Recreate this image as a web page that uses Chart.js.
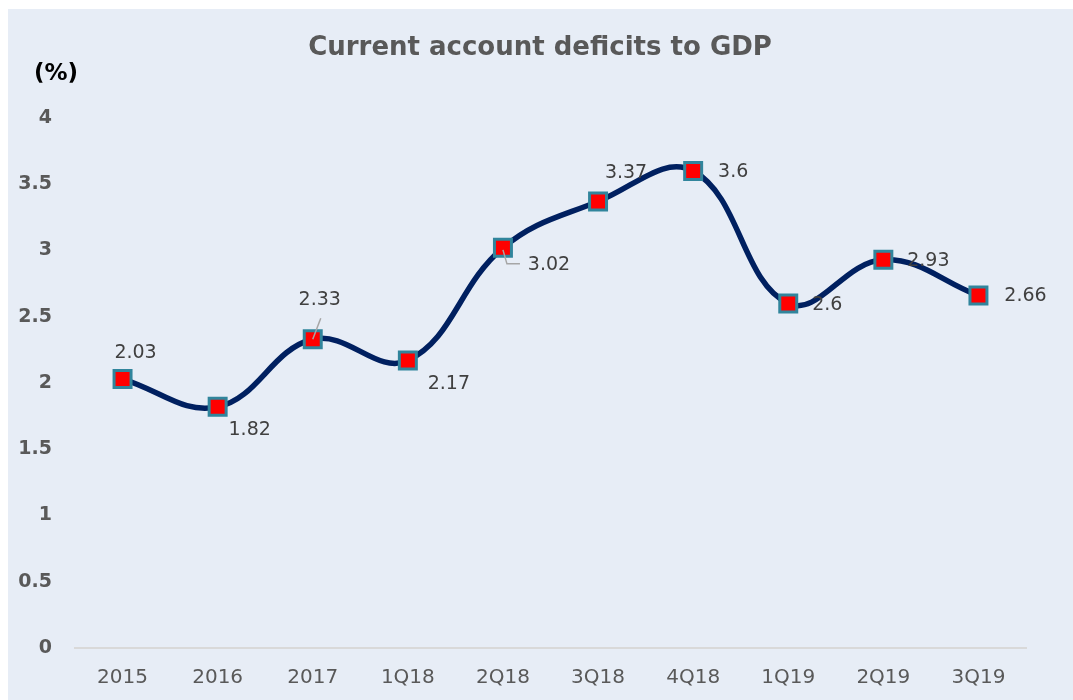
<!DOCTYPE html>
<html>
<head>
<meta charset="utf-8">
<script src="https://cdn.jsdelivr.net/npm/chart.js@4/dist/chart.umd.min.js"></script>
<style>
    html, body { margin: 0; padding: 0; background: #fff; }
    #wrap {
        position: absolute;
        left: 8px;
        top: 9px;
        width: 1065px;
        height: 691px;
        background: #e7edf6;
    }
</style>
</head>
<body>
<div id="wrap"><canvas id="cadChart" width="1065" height="691"></canvas></div>
<script>
// Current account deficit as % of GDP
const periods = ['2015', '2016', '2017', '1Q18', '2Q18', '3Q18', '4Q18', '1Q19', '2Q19', '3Q19'];
const deficitPct = [2.03, 1.82, 2.33, 2.17, 3.02, 3.37, 3.6, 2.6, 2.93, 2.66];
const yTicks = [0, 0.5, 1, 1.5, 2, 2.5, 3, 3.5, 4];
const chartTitle = 'Current account deficits to GDP';
const unitLabel = '(%)';

// Where each value label sits relative to its marker, and which ones get a leader line
const labelOffsets = [
    [13, -26], [32, 23], [7, -39], [41, 24], [46, 17],
    [28, -28], [40, 1], [39, 2], [45, 1], [47, 1]
];
const leaderLines = {
    2: [[0, 0], [8, -21]],
    4: [[0, 2], [4, 16], [17, 16]]
};

const colors = {
    line: '#002060',
    markerFill: '#ff0000',
    markerBorder: '#31859c',
    axisText: '#595959',
    labelText: '#404040',
    axisLine: '#d9d9d9',
    leader: '#a6a6a6'
};

// Title, "(%)" caption, value labels and leader lines
const annotations = {
    id: 'annotations',
    afterDatasetsDraw(chart) {
        const ctx = chart.ctx;
        const meta = chart.getDatasetMeta(0);
        ctx.save();
        ctx.textAlign = 'center';
        ctx.textBaseline = 'middle';

        ctx.font = 'bold 26px "DejaVu Sans"';
        ctx.fillStyle = colors.axisText;
        ctx.fillText(chartTitle, 532, 39);

        ctx.font = 'bold 23px "DejaVu Sans"';
        ctx.fillStyle = '#000';
        ctx.fillText(unitLabel, 48, 65);

        meta.data.forEach((pt, i) => {
            const lines = leaderLines[i];
            if (!lines) return;
            ctx.strokeStyle = colors.leader;
            ctx.lineWidth = 1.5;
            ctx.beginPath();
            lines.forEach(([dx, dy], j) => {
                if (j === 0) ctx.moveTo(pt.x + dx, pt.y + dy);
                else ctx.lineTo(pt.x + dx, pt.y + dy);
            });
            ctx.stroke();
        });

        ctx.font = '19px "DejaVu Sans"';
        ctx.fillStyle = colors.labelText;
        meta.data.forEach((pt, i) => {
            const [dx, dy] = labelOffsets[i];
            ctx.fillText(String(deficitPct[i]), pt.x + dx, pt.y + dy);
        });
        ctx.restore();
    }
};

new Chart(document.getElementById('cadChart').getContext('2d'), {
    type: 'line',
    data: {
        labels: periods,
        datasets: [{
            data: deficitPct,
            borderColor: colors.line,
            borderWidth: 5.5,
            tension: 0.4,
            pointStyle: 'rect',
            pointRadius: 12,
            pointHoverRadius: 12,
            pointBackgroundColor: colors.markerFill,
            pointBorderColor: colors.markerBorder,
            pointBorderWidth: 3,
            clip: false
        }]
    },
    options: {
        responsive: false,
        animation: false,
        events: [],
        layout: { padding: { left: 0, right: 47, top: 109, bottom: 0 } },
        plugins: {
            legend: { display: false },
            tooltip: { enabled: false },
            title: { display: false }
        },
        scales: {
            x: {
                offset: true,
                grid: { display: false, drawTicks: false },
                border: { display: true, color: colors.axisLine, width: 2 },
                ticks: {
                    color: colors.axisText,
                    font: { family: 'DejaVu Sans', size: 20 },
                    padding: 18,
                    maxRotation: 0
                },
                afterFit: scale => { scale.height = 52; }
            },
            y: {
                min: 0,
                max: 4,
                afterBuildTicks: scale => { scale.ticks = yTicks.map(v => ({ value: v })); },
                grid: { display: false, drawTicks: false },
                border: { display: false },
                ticks: {
                    color: colors.axisText,
                    font: { family: 'DejaVu Sans', size: 19, weight: 'bold' },
                    padding: 23,
                    callback: v => String(v)
                },
                afterFit: scale => { scale.width = 67; }
            }
        }
    },
    plugins: [annotations]
});
</script>
</body>
</html>
